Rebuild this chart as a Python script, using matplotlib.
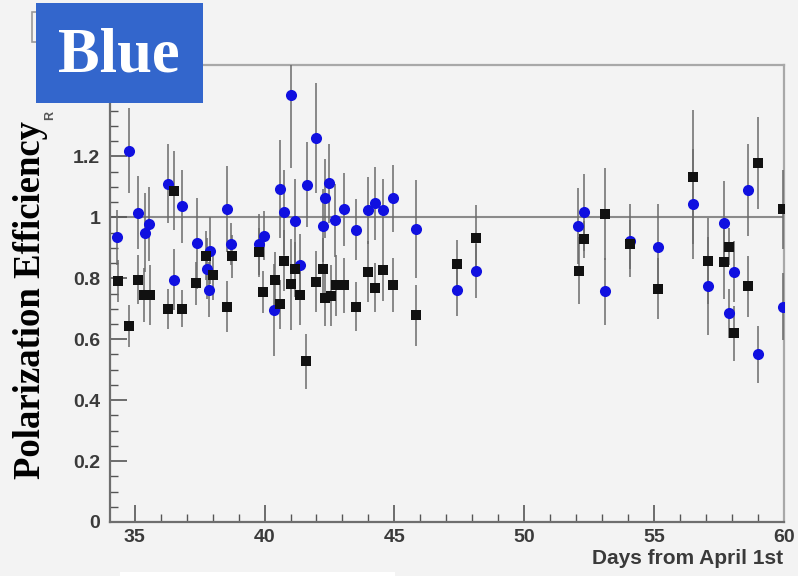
import matplotlib
matplotlib.use("Agg")
import matplotlib.pyplot as pl
from matplotlib.patches import Rectangle
from matplotlib.ticker import MultipleLocator, FuncFormatter

# blue ring polarization efficiency vs day, two series (circles, squares)
blueDays = [34.31, 34.79, 35.11, 35.38, 35.56, 36.30, 36.50, 36.82, 37.40, 37.78,
			37.88, 37.91, 38.55, 38.72, 39.77, 39.97, 40.38, 40.61, 40.76, 41.03,
			41.19, 41.38, 41.62, 42.00, 42.25, 42.31, 42.47, 42.73, 43.05, 43.53,
			43.98, 44.27, 44.57, 44.95, 45.85, 47.42, 48.13, 52.05, 52.30, 53.10,
			54.08, 55.16, 56.48, 57.06, 57.70, 57.89, 58.08, 58.62, 59.01, 59.95]
blueEff = [0.934, 1.219, 1.015, 0.950, 0.978, 1.110, 0.795, 1.036, 0.915, 0.832,
			0.762, 0.890, 1.027, 0.912, 0.912, 0.940, 0.696, 1.093, 1.016, 1.403,
			0.987, 0.844, 1.107, 1.261, 0.972, 1.063, 1.112, 0.991, 1.027, 0.959,
			1.024, 1.046, 1.025, 1.063, 0.961, 0.762, 0.824, 0.972, 1.016, 0.758,
			0.923, 0.903, 1.044, 0.775, 0.980, 0.685, 0.822, 1.090, 0.550, 0.706]
blueErr = [0.09, 0.14, 0.12, 0.13, 0.12, 0.13, 0.10, 0.12, 0.15, 0.10,
			0.09, 0.11, 0.14, 0.07, 0.10, 0.08, 0.15, 0.16, 0.14, 0.24,
			0.14, 0.10, 0.14, 0.18, 0.12, 0.13, 0.13, 0.12, 0.12, 0.10,
			0.11, 0.12, 0.10, 0.11, 0.16, 0.085, 0.09, 0.125, 0.125, 0.11,
			0.12, 0.14, 0.18, 0.16, 0.14, 0.08, 0.10, 0.15, 0.093, 0.11]

blackDays = [34.35, 34.79, 35.12, 35.34, 35.60, 36.30, 36.53, 36.82, 37.37, 37.74,
			38.02, 38.55, 38.75, 39.77, 39.93, 40.39, 40.61, 40.76, 41.03, 41.16,
			41.38, 41.60, 42.00, 42.25, 42.34, 42.54, 42.77, 43.05, 43.53, 43.98,
			44.27, 44.57, 44.95, 45.85, 47.42, 48.13, 52.09, 52.30, 53.10, 54.08,
			55.16, 56.48, 57.06, 57.70, 57.89, 58.08, 58.62, 59.01, 59.95]
blackEff = [0.791, 0.643, 0.795, 0.745, 0.745, 0.700, 1.088, 0.700, 0.783, 0.874,
			0.810, 0.707, 0.872, 0.885, 0.755, 0.795, 0.715, 0.857, 0.780, 0.830,
			0.745, 0.528, 0.788, 0.832, 0.734, 0.742, 0.777, 0.777, 0.707, 0.821,
			0.769, 0.826, 0.778, 0.678, 0.846, 0.931, 0.824, 0.928, 1.011, 0.912,
			0.766, 1.132, 0.857, 0.852, 0.904, 0.619, 0.773, 1.178, 1.027]
blackErr = [0.07, 0.07, 0.08, 0.09, 0.10, 0.065, 0.13, 0.06, 0.07, 0.08,
			0.08, 0.085, 0.07, 0.08, 0.07, 0.09, 0.08, 0.10, 0.15, 0.09,
			0.10, 0.09, 0.10, 0.10, 0.09, 0.10, 0.10, 0.09, 0.08, 0.10,
			0.08, 0.10, 0.09, 0.10, 0.08, 0.11, 0.11, 0.06, 0.15, 0.08,
			0.10, 0.22, 0.14, 0.12, 0.06, 0.09, 0.10, 0.15, 0.13]

BACKGROUND = "#f3f3f3"
TEXT_GRAY = "#3a3a3a"
SANS = "Liberation Sans"
W, H = 798, 576

figure = pl.figure(figsize=(W / 100, H / 100), dpi=100, facecolor=BACKGROUND)
axes = figure.add_axes([110 / W, 1 - 522 / H, (784 - 110) / W, (522 - 65) / H])
axes.set_facecolor(BACKGROUND)

axes.axhline(1.0, color="#8a8a8a", linewidth=1.5, zorder=1)

errStyle = dict(linestyle="none", ecolor="#6a6a6a", elinewidth=1.1, capsize=2, capthick=0.8)
axes.errorbar(blueDays, blueEff, yerr=blueErr, marker="o", markersize=8,
				color="#1010e0", markeredgewidth=0, zorder=3, **errStyle)
axes.errorbar(blackDays, blackEff, yerr=blackErr, marker="s", markersize=7.2,
				color="#111111", markeredgewidth=0, zorder=3, **errStyle)

axes.set_xlim(34.05, 60)
axes.set_ylim(0, 1.5)
axes.xaxis.set_major_locator(MultipleLocator(5))
axes.xaxis.set_minor_locator(MultipleLocator(1))
axes.yaxis.set_major_locator(MultipleLocator(0.2))
axes.yaxis.set_minor_locator(MultipleLocator(0.05))
axes.xaxis.set_major_formatter(FuncFormatter(lambda v, p: f"{v:g}"))
axes.yaxis.set_major_formatter(FuncFormatter(lambda v, p: f"{v:g}"))
axes.tick_params(which="both", direction="in", colors="#555555", labelcolor=TEXT_GRAY,
					labelsize=14, top=False, right=False)
axes.tick_params(which="major", length=12, width=1.2)
axes.tick_params(axis="x", which="major", pad=5)
axes.tick_params(axis="y", which="major", pad=7)
axes.tick_params(which="minor", length=6, width=1.0)
for label in axes.get_xticklabels() + axes.get_yticklabels():
	label.set_fontweight("bold")
	label.set_family(SANS)

for side in ["left", "bottom"]:
	axes.spines[side].set_color("#6e6e6e")
	axes.spines[side].set_linewidth(1.6)
for side in ["top", "right"]:
	axes.spines[side].set_color("#a8a8a8")
	axes.spines[side].set_linewidth(1.6)

figure.text(783 / W, 1 - 559 / H, "Days from April 1st", ha="right", va="center",
			fontsize=15, fontweight="bold", family=SANS, color=TEXT_GRAY)
figure.text(31 / W, 1 - 300 / H, "Polarization Efficiency", rotation=90, ha="center",
			va="center", fontsize=26.5, fontweight="bold", family="Liberation Serif",
			color="black")
figure.text(50 / W, 1 - 116 / H, "R", rotation=90, ha="center", va="center",
			fontsize=9, fontweight="bold", family=SANS, color="#555555")

# leftover title frame and white strip from the original screenshot
figure.patches.append(Rectangle((32 / W, 1 - 42 / H), 100 / W, 30 / H,
					transform=figure.transFigure, facecolor="none",
					edgecolor="#9a9a9a", linewidth=1.2, zorder=0))
figure.patches.append(Rectangle((120 / W, 0), 275 / W, 4 / H,
					transform=figure.transFigure, facecolor="white",
					edgecolor="none", zorder=0))

# "Blue" label box
figure.patches.append(Rectangle((36 / W, 1 - 103 / H), 167 / W, 100 / H,
					transform=figure.transFigure, facecolor="#3366cc",
					edgecolor="none", zorder=5))
figure.text(119 / W, 1 - 57 / H, "Blue", ha="center", va="center", fontsize=45,
			fontweight="bold", family="Liberation Serif", color="white", zorder=6)

figure.savefig("out.png", dpi=100, facecolor=BACKGROUND)
